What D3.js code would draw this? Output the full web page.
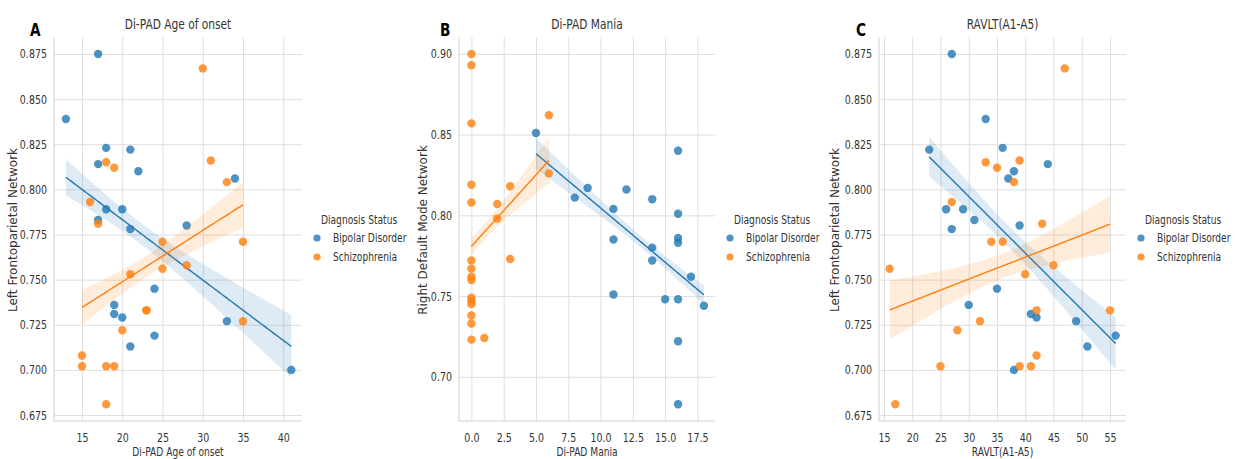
<!DOCTYPE html>
<html>
<head>
<meta charset="utf-8">
<script src="https://cdn.jsdelivr.net/npm/d3@7"></script>
<style>
  body { margin: 0; background: #fff; }
  svg text { font-family: "DejaVu Sans", sans-serif; fill: #333; }
</style>
</head>
<body>
<div id="chart"></div>
<script>
// values (one point per subject)
var groups = ["Bipolar Disorder", "Schizophrenia"];

// A: Di-PAD Age of onset vs Left Frontoparietal Network
var onsetBD = [13, 17, 18, 21, 17, 22, 34, 18, 20, 17, 21, 28, 24, 19, 19, 20, 24, 21, 33, 41];
var lfpnBD_A = [0.839, 0.875, 0.823, 0.822, 0.814, 0.810, 0.806, 0.789, 0.789, 0.783, 0.778, 0.780, 0.745, 0.736, 0.731, 0.729, 0.719, 0.713, 0.727, 0.700];
var onsetSZ = [30, 31, 33, 18, 19, 16, 17, 25, 35, 28, 25, 21, 23, 23, 20, 35, 15, 15, 18, 19, 18];
var lfpnSZ_A = [0.867, 0.816, 0.804, 0.815, 0.812, 0.793, 0.781, 0.771, 0.771, 0.758, 0.756, 0.753, 0.733, 0.733, 0.722, 0.727, 0.708, 0.702, 0.702, 0.702, 0.681];

// B: Di-PAD Mania vs Right Default Mode Network
var maniaBD = [5, 16, 9, 12, 8, 14, 11, 16, 11, 16, 16, 14, 14, 17, 11, 15, 16, 18, 16, 16];
var rdmnBD = [0.851, 0.840, 0.817, 0.816, 0.811, 0.810, 0.804, 0.801, 0.785, 0.786, 0.783, 0.780, 0.772, 0.762, 0.751, 0.748, 0.748, 0.744, 0.722, 0.683];
var maniaSZ = [0, 0, 0, 0, 0, 0, 0, 0, 0, 0, 0, 0, 0, 0, 0, 1, 2, 2, 3, 3, 6, 6];
var rdmnSZ = [0.900, 0.893, 0.857, 0.819, 0.808, 0.772, 0.767, 0.762, 0.760, 0.749, 0.747, 0.745, 0.738, 0.733, 0.723, 0.724, 0.807, 0.798, 0.818, 0.773, 0.862, 0.826];

// C: RAVLT(A1-A5) vs Left Frontoparietal Network
var ravltBD = [27, 33, 23, 36, 44, 38, 37, 26, 29, 31, 39, 27, 35, 30, 41, 42, 49, 51, 56, 38];
var lfpnBD_C = [0.875, 0.839, 0.822, 0.823, 0.814, 0.810, 0.806, 0.789, 0.789, 0.783, 0.780, 0.778, 0.745, 0.736, 0.731, 0.729, 0.727, 0.713, 0.719, 0.700];
var ravltSZ = [47, 39, 33, 35, 38, 27, 43, 34, 36, 16, 45, 40, 42, 55, 32, 28, 42, 25, 39, 41, 17];
var lfpnSZ_C = [0.867, 0.816, 0.815, 0.812, 0.804, 0.793, 0.781, 0.771, 0.771, 0.756, 0.758, 0.753, 0.733, 0.733, 0.727, 0.722, 0.708, 0.702, 0.702, 0.702, 0.681];

// tick values
var ticksX_A = [15, 20, 25, 30, 35, 40];
var ticksY_A = [0.675, 0.700, 0.725, 0.750, 0.775, 0.800, 0.825, 0.850, 0.875];
var ticksX_B = [0, 2.5, 5, 7.5, 10, 12.5, 15, 17.5];
var ticksY_B = [0.70, 0.75, 0.80, 0.85, 0.90];
var ticksX_C = [15, 20, 25, 30, 35, 40, 45, 50, 55];
var ticksY_C = ticksY_A;

var width = 1241, height = 459;
var colors = ["#1f77b4", "#ff7f0e"];
var SX = 0.76;   // the figure text is horizontally squeezed
var plotTop = 37, plotBottom = 421;

// band: how many standard errors the shaded band spans (matched to the figure)
var panels = [
    { letter: "A", title: "Di-PAD Age of onset", xlab: "Di-PAD Age of onset", ylab: "Left Frontoparietal Network",
      x0: 54, x1: 302, xDom: [11.52, 42.33], yDom: [0.6717, 0.8844],
      xt: ticksX_A, yt: ticksY_A, xf: d3.format("d"), yf: d3.format(".3f"),
      sets: [[onsetBD, lfpnBD_A], [onsetSZ, lfpnSZ_A]], band: 0.6,
      letterX: 30, ylabX: 17, legX: 317 },
    { letter: "B", title: "Di-PAD Mania", xlab: "Di-PAD Mania", ylab: "Right Default Mode Network",
      x0: 459, x1: 715, xDom: [-0.96, 18.86], yDom: [0.6726, 0.9105],
      xt: ticksX_B, yt: ticksY_B, xf: d3.format(".1f"), yf: d3.format(".2f"),
      sets: [[maniaBD, rdmnBD], [maniaSZ, rdmnSZ]], band: 0.45,
      letterX: 440, ylabX: 427, legX: 730 },
    { letter: "C", title: "RAVLT(A1-A5)", xlab: "RAVLT(A1-A5)", ylab: "Left Frontoparietal Network",
      x0: 879, x1: 1126, xDom: [14.12, 57.83], yDom: [0.6717, 0.8844],
      xt: ticksX_C, yt: ticksY_C, xf: d3.format("d"), yf: d3.format(".3f"),
      sets: [[ravltBD, lfpnBD_C], [ravltSZ, lfpnSZ_C]], band: 0.65,
      letterX: 856, ylabX: 839, legX: 1141 }
];

var svg = d3.select("#chart").append("svg")
    .attr("width", width)
    .attr("height", height);

// squeezed horizontal text
function label(g, x, y, txt, size, anchor, weight) {
    return g.append("text")
        .attr("transform", "translate(" + x + "," + y + ") scale(" + SX + ",1)")
        .attr("text-anchor", anchor || "start")
        .style("font-size", size + "px")
        .style("font-weight", weight || "normal")
        .text(txt);
}

// ordinary least squares with a band around the mean
function fit(xs, ys, t) {
    var n = xs.length;
    var mx = d3.mean(xs), my = d3.mean(ys);
    var sxx = d3.sum(xs, function(v) { return (v - mx) * (v - mx); });
    var sxy = d3.sum(xs, function(v, i) { return (v - mx) * (ys[i] - my); });
    var b = sxy / sxx, a = my - b * mx;
    var sse = d3.sum(xs, function(v, i) { var r = ys[i] - (a + b * v); return r * r; });
    var s = Math.sqrt(sse / (n - 2));
    var lo = d3.min(xs), hi = d3.max(xs);
    return d3.range(101).map(function(i) {
        var x = lo + (hi - lo) * i / 100;
        var yh = a + b * x;
        var se = s * Math.sqrt(1 / n + (x - mx) * (x - mx) / sxx);
        return { x: x, y: yh, lo: yh - t * se, hi: yh + t * se };
    });
}

panels.forEach(function(p) {
    var x = d3.scaleLinear().domain(p.xDom).range([p.x0, p.x1]);
    var y = d3.scaleLinear().domain(p.yDom).range([plotBottom, plotTop]);
    var g = svg.append("g");

    // grid
    g.append("g")
        .attr("transform", "translate(0," + plotBottom + ")")
        .call(d3.axisBottom(x).tickValues(p.xt).tickSize(-(plotBottom - plotTop)).tickFormat(""))
        .call(function(s) { s.select(".domain").remove(); })
        .selectAll("line").attr("stroke", "#dedede");
    g.append("g")
        .attr("transform", "translate(" + p.x0 + ",0)")
        .call(d3.axisLeft(y).tickValues(p.yt).tickSize(-(p.x1 - p.x0)).tickFormat(""))
        .call(function(s) { s.select(".domain").remove(); })
        .selectAll("line").attr("stroke", "#dedede");

    // spines (left and bottom only)
    g.append("line").attr("x1", p.x0).attr("x2", p.x0).attr("y1", plotTop).attr("y2", plotBottom)
        .attr("stroke", "#d0d0d0");
    g.append("line").attr("x1", p.x0).attr("x2", p.x1).attr("y1", plotBottom).attr("y2", plotBottom)
        .attr("stroke", "#d0d0d0");

    // tick labels
    var ax = g.append("g")
        .attr("transform", "translate(0," + plotBottom + ")")
        .call(d3.axisBottom(x).tickValues(p.xt).tickSize(0).tickFormat(p.xf));
    ax.select(".domain").remove();
    ax.selectAll("text")
        .attr("y", 0).attr("dy", 0)
        .attr("transform", "translate(0,21) scale(" + SX + ",1)")
        .style("font-size", "12.5px").style("fill", "#333");

    var ay = g.append("g")
        .attr("transform", "translate(" + p.x0 + ",0)")
        .call(d3.axisLeft(y).tickValues(p.yt).tickSize(0).tickFormat(p.yf));
    ay.select(".domain").remove();
    ay.selectAll("text")
        .attr("x", 0)
        .attr("transform", "translate(-7,0) scale(" + SX + ",1)")
        .style("font-size", "12.5px").style("fill", "#333");

    // hue layers: scatter, band, line
    p.sets.forEach(function(set, k) {
        var pts = set[0].map(function(v, i) { return [v, set[1][i]]; });
        g.append("g").selectAll("circle")
            .data(pts)
            .enter()
            .append("circle")
            .attr("cx", function(d) { return x(d[0]); })
            .attr("cy", function(d) { return y(d[1]); })
            .attr("r", 4.2)
            .style("fill", colors[k])
            .style("fill-opacity", 0.8);

        var f = fit(set[0], set[1], p.band);
        g.append("path")
            .datum(f)
            .attr("d", d3.area()
                .x(function(d) { return x(d.x); })
                .y0(function(d) { return y(d.lo); })
                .y1(function(d) { return y(d.hi); }))
            .style("fill", colors[k])
            .style("fill-opacity", 0.15);
        g.append("path")
            .datum(f)
            .attr("d", d3.line()
                .x(function(d) { return x(d.x); })
                .y(function(d) { return y(d.y); }))
            .style("fill", "none")
            .style("stroke", colors[k])
            .style("stroke-width", 1.4);
    });

    // titles and labels
    var cx = (p.x0 + p.x1) / 2;
    label(g, cx, 29, p.title, 14, "middle");
    label(g, cx, 456, p.xlab, 12, "middle");
    label(g, p.letterX, 36, p.letter, 18, "start", "bold").style("fill", "#000");
    g.append("text")
        .attr("transform", "translate(" + p.ylabX + "," + ((plotTop + plotBottom) / 2 + 1) + ") rotate(-90)")
        .attr("text-anchor", "middle")
        .style("font-size", "12px")
        .text(p.ylab);

    // legend
    label(g, p.legX + 4, 224, "Diagnosis Status", 12, "start");
    groups.forEach(function(name, k) {
        var yy = 238 + k * 19;
        g.append("circle").attr("cx", p.legX).attr("cy", yy).attr("r", 3.6)
            .style("fill", colors[k]).style("fill-opacity", 0.8);
        label(g, p.legX + 16, yy + 4, name, 12, "start");
    });
});
</script>
</body>
</html>
